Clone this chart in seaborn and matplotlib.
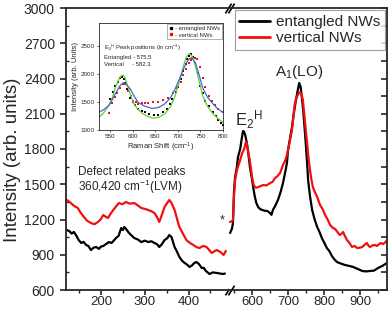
import matplotlib
matplotlib.use("Agg")
import matplotlib.pyplot as plt
import seaborn as sns
import pandas as pd
from matplotlib.lines import Line2D

# ---------------- data ----------------
# main spectrum, low-wavenumber segment (cm-1)
blackL_x = [122,128,133,138,144,149,155,160,166,171,177,183,189,195,200,205,211,218,224,229,
            234,240,246,250,253,257,262,268,276,284,292,300,308,315,322,328,333,339,345,351,
            356,361,368,373,379,385,391,397,402,408,413,418,424,430,434,440,448,455,464,472,478,483]
blackL_y = [1110,1100,1080,1094,1060,1025,1000,1010,983,975,940,960,966,950,970,974,990,1008,1000,1020,
            1042,1060,1127,1110,1136,1120,1094,1070,1042,1030,1008,1020,1008,1015,1000,990,966,990,1025,1040,
            1068,1050,966,930,881,850,830,815,796,810,830,838,820,787,790,760,736,750,745,740,736,740]
redL_x = [122,128,136,141,147,153,161,168,177,185,193,199,205,210,216,222,228,234,241,249,
          257,265,276,284,292,300,308,315,322,328,333,339,345,351,356,361,368,374,379,387,
          395,403,411,418,425,433,441,447,453,459,464,472,480,485]
redL_y = [1366,1350,1323,1310,1298,1260,1221,1190,1170,1160,1179,1200,1238,1225,1213,1250,1281,1310,1340,1330,
          1349,1335,1340,1320,1298,1290,1281,1270,1255,1220,1179,1240,1306,1340,1366,1340,1281,1200,1136,1080,
          1025,1000,983,965,957,975,966,940,915,930,940,925,898,932]
# main spectrum, high-wavenumber segment
blackR_x = [539,544,547,550,553,558,561,567,572,575,578,581,585,589,594,600,604,608,612,617,
            622,628,635,642,646,650,654,658,665,672,679,686,692,697,700,705,711,716,722,727,
            731,735,738,742,746,750,753,756,761,767,774,781,788,794,801,808,815,822,829,836,
            847,858,870,881,893,906,917,928,939,950,962,975]
blackR_y = [1085,1120,1170,1450,1562,1647,1732,1800,1900,1953,1945,1920,1860,1780,1650,1540,1460,1391,1340,1306,
            1290,1281,1275,1272,1265,1255,1240,1281,1320,1366,1430,1510,1600,1681,1791,1880,1987,2100,2217,2300,
            2362,2330,2250,2132,1980,1817,1680,1530,1400,1281,1200,1136,1090,1042,1000,957,930,889,860,838,
            825,813,805,796,780,762,758,762,765,787,805,830]
redR_x = [539,544,547,550,553,558,561,567,572,578,583,586,589,594,600,604,608,612,617,624,
          631,640,650,657,664,671,678,686,692,697,704,711,715,719,724,729,733,737,741,744,
          748,753,757,761,765,769,775,781,789,796,803,810,817,824,831,838,844,849,853,858,
          864,871,878,885,892,899,906,913,919,924,928,935,941,947,953,958,964,970,975]
redR_y = [1179,1185,1196,1400,1536,1621,1650,1706,1760,1800,1860,1840,1780,1700,1562,1500,1476,1470,1476,1485,
          1493,1490,1510,1520,1553,1570,1596,1664,1700,1749,1850,1962,2080,2191,2240,2270,2285,2270,2220,2132,
          2000,1851,1720,1621,1540,1476,1430,1391,1323,1290,1238,1200,1153,1130,1119,1090,1068,1080,1094,1060,
          1025,1000,966,975,957,960,966,985,1000,975,966,980,983,975,990,1000,991,1005,1025]

# inset
ent_dot_x = [550,555,561,567,572,576,580,583,588,594,600,605,612,620,628,636,646,655,666,675,
             682,688,695,700,706,712,717,721,725,730,734,739,744,750,755,761,768,777,784,790,795,799]
ent_dot_y = [1550,1680,1784,1860,1923,1935,1900,1836,1720,1575,1490,1436,1380,1340,1314,1285,1261,1270,1314,1380,
             1460,1557,1680,1760,1906,2050,2170,2254,2310,2341,2300,2185,2020,1784,1650,1523,1420,1314,1240,1174,1120,1087]
vert_dot_x = [548,554,560,565,571,578,583,590,596,601,606,612,620,628,634,645,656,668,679,690,
              699,706,712,717,724,728,732,737,743,748,755,761,768,775,783,790,799]
vert_dot_y = [1296,1488,1580,1662,1740,1819,1810,1697,1600,1523,1490,1470,1475,1480,1488,1495,1505,1535,1575,1650,
              1749,1850,1970,2080,2190,2240,2272,2275,2254,2120,1923,1760,1610,1520,1436,1380,1314]
green_x = [525,535,547,555,561,568,574,578,582,587,594,601,610,621,633,646,658,672,684,694,
           703,712,719,725,731,739,747,755,765,777,788,799]
green_y = [1226,1300,1436,1580,1749,1880,1958,1975,1940,1819,1640,1488,1380,1296,1240,1209,1225,1296,1420,1610,
           1850,2132,2300,2358,2320,2132,1870,1610,1430,1296,1210,1139]
blue_x = [525,535,547,556,565,572,578,584,594,603,612,627,643,657,672,684,694,703,712,720,
          726,732,739,747,755,765,777,788,799]
blue_y = [1314,1360,1436,1560,1697,1790,1836,1825,1732,1600,1488,1420,1383,1400,1470,1580,1732,1900,2080,2210,
          2272,2270,2185,1980,1749,1590,1470,1380,1314]

left_xticks = [200, 300, 400]
right_xticks = [600, 700, 800, 900]
yticks = [600, 900, 1200, 1500, 1800, 2100, 2400, 2700, 3000]
series_names = ["entangled NWs", "vertical NWs"]
inset_names = ["- entangled NWs", "- vertical NWs"]

# ---------------- style ----------------
sns.set_style("ticks")
plt.rcParams["font.family"] = ["Liberation Sans", "DejaVu Sans"]
plt.rcParams["mathtext.fontset"] = "custom"
plt.rcParams["mathtext.rm"] = "Liberation Sans"
plt.rcParams["mathtext.it"] = "Liberation Sans:italic"
plt.rcParams["axes.linewidth"] = 1.3

RED = "#f01010"
W, H = 392, 312
fig = plt.figure(figsize=(W / 100, H / 100), dpi=100)
bot, top = 1 - 290 / H, 1 - 8 / H
axL = fig.add_axes([66 / W, bot, (228 - 66) / W, top - bot])
axR = fig.add_axes([229 / W, bot, (387 - 229) / W, top - bot])

lw = 1.6
sns.lineplot(x=blackL_x, y=blackL_y, ax=axL, color="black", lw=lw, sort=False, estimator=None)
sns.lineplot(x=redL_x, y=redL_y, ax=axL, color=RED, lw=lw, sort=False, estimator=None)
sns.lineplot(x=blackR_x, y=blackR_y, ax=axR, color="black", lw=lw, sort=False, estimator=None)
sns.lineplot(x=redR_x, y=redR_y, ax=axR, color=RED, lw=lw, sort=False, estimator=None)

for ax in (axL, axR):
    ax.set_ylim(600, 3000)
    ax.set_xlabel("")
    ax.set_ylabel("")
    ax.set_yticks(yticks)

axL.set_xlim(120, 490)
axL.set_xticks(left_xticks)
axL.set_xticks([150, 250, 350, 450], minor=True)
axL.set_yticks(list(range(750, 3000, 300)), minor=True)
axL.spines["right"].set_visible(False)
axL.tick_params(axis="y", which="major", direction="out", length=4, width=1.2, labelsize=10, pad=4)
axL.tick_params(axis="y", which="minor", direction="in", length=2.5, width=1.0)
axL.tick_params(axis="x", which="major", direction="out", length=3.5, width=1.2, labelsize=9.5, pad=1)
axL.tick_params(axis="x", which="minor", direction="out", length=2.5, width=1.0)

axR.set_xlim(536, 975)
axR.set_xticks(right_xticks)
axR.set_xticks([550, 650, 750, 850, 950], minor=True)
axR.set_yticks(list(range(750, 3000, 300)), minor=True)
axR.spines["left"].set_visible(False)
axR.yaxis.tick_right()
axR.tick_params(axis="y", which="both", direction="in", length=4, width=1.2, labelright=False, labelleft=False, left=False)
axR.tick_params(axis="x", which="major", direction="out", length=3.5, width=1.2, labelsize=9.5, pad=1)
axR.tick_params(axis="x", which="minor", direction="out", length=2.5, width=1.0)

# broken axis marks
kw = dict(marker=[(-1, -1.6), (1, 1.6)], markersize=7, linestyle="none", color="k", mec="k", mew=1.2, clip_on=False)
axL.plot([1, 1], [0, 1], transform=axL.transAxes, **kw)
axR.plot([0.01, 0.01], [0, 1], transform=axR.transAxes, **kw)

# legend
handles = [Line2D([], [], color="black", lw=2), Line2D([], [], color=RED, lw=2)]
leg = axR.legend(handles, series_names, loc="upper right", fontsize=11, frameon=True, fancybox=False,
                 edgecolor="#888888", handlelength=2.0, handletextpad=0.4, borderpad=0.3,
                 labelspacing=0.15, borderaxespad=0.15)
leg.get_frame().set_linewidth(0.8)

# annotations
axR.text(553, 2000, r"E$_\mathregular{2}$$^\mathregular{H}$", fontsize=12, ha="left", va="baseline")
axR.text(730, 2420, r"A$_\mathregular{1}$(LO)", fontsize=11, ha="center", va="baseline")
axL.text(147, 1580, "Defect related peaks", fontsize=8.5, ha="left", va="baseline")
axL.text(147, 1440, r"360,420 cm$^\mathregular{-1}$(LVM)", fontsize=8.5, ha="left", va="baseline")
axL.text(476, 1190, "*", fontsize=9, ha="center", va="center")
fig.text(13 / W, 1 - 160 / H, "Intensity (arb. units)", rotation=90, fontsize=13.5, ha="center", va="center")

# ---------------- inset ----------------
axI = fig.add_axes([99 / W, 1 - 130 / H, 124 / W, 107 / H])
sns.lineplot(x=green_x, y=green_y, ax=axI, color="#66cc33", lw=0.9, sort=False, estimator=None)
sns.lineplot(x=blue_x, y=blue_y, ax=axI, color="#4466dd", lw=0.9, sort=False, estimator=None)
sns.scatterplot(x=ent_dot_x, y=ent_dot_y, ax=axI, color="black", marker="s", s=3, linewidth=0)
sns.scatterplot(x=vert_dot_x, y=vert_dot_y, ax=axI, color=RED, marker="s", s=3, linewidth=0)
axI.set_xlim(525, 800)
axI.set_ylim(1000, 2900)
axI.set_xticks([550, 600, 650, 700, 750, 800])
axI.set_yticks([1000, 1500, 2000, 2500])
for s in axI.spines.values():
    s.set_linewidth(0.6)
axI.tick_params(labelsize=4.5, length=1.5, width=0.5, pad=1.5)
axI.set_xlabel(r"Raman Shift (cm$^\mathregular{-1}$)", fontsize=5.5, labelpad=1)
axI.set_ylabel("Intensity (arb. Units)", fontsize=5.5, labelpad=1.5)
ih = [Line2D([], [], marker="s", color="black", ms=2, ls="none"),
      Line2D([], [], marker="s", color=RED, ms=2, ls="none")]
li = axI.legend(ih, inset_names, loc="upper right", fontsize=4.3, frameon=True, fancybox=False,
                edgecolor="#777777", handlelength=0.8, handletextpad=0.2, borderpad=0.3,
                labelspacing=0.2, borderaxespad=0.2)
li.get_frame().set_linewidth(0.5)
axI.text(0.04, 0.77, r"E$_\mathregular{2}$$^\mathregular{H}$ Peak positions (in cm$^\mathregular{-1}$)",
         transform=axI.transAxes, fontsize=4.3, ha="left", va="center")
axI.text(0.04, 0.68, "Entangled - 575.5", transform=axI.transAxes, fontsize=4.3, ha="left", va="center")
axI.text(0.04, 0.61, "Vertical     - 582.3", transform=axI.transAxes, fontsize=4.3, ha="left", va="center")

fig.savefig("out.png", dpi=100)
